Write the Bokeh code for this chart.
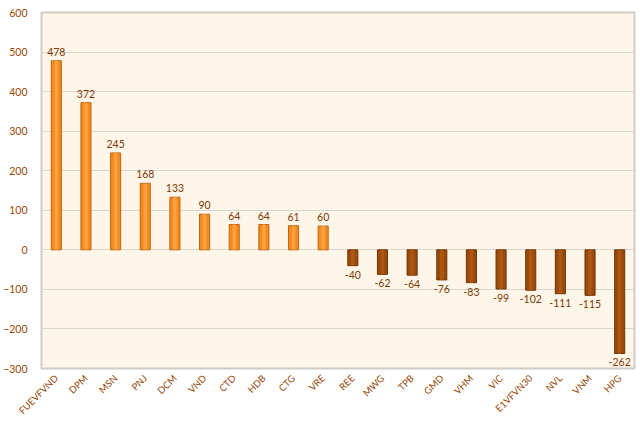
import math
from bokeh.plotting import figure
from bokeh.models import ColumnDataSource, FactorRange
from bokeh.core.properties import value
from bokeh.embed import file_html
from bokeh.resources import INLINE

categories = ["FUEVFVND", "DPM", "MSN", "PNJ", "DCM", "VND", "CTD", "HDB", "CTG", "VRE",
              "REE", "MWG", "TPB", "GMD", "VHM", "VIC", "E1VFVN30", "NVL", "VNM", "HPG"]
values = [478, 372, 245, 168, 133, 90, 64, 64, 61, 60,
          -40, -62, -64, -76, -83, -99, -102, -111, -115, -262]
y_ticks = [-300, -200, -100, 0, 100, 200, 300, 400, 500, 600]

FONT = "Lato"
TXT = "#984807"

pos = [v >= 0 for v in values]
src = ColumnDataSource(dict(
    x=categories,
    top=values,
    fill=["#F58A1F" if p else "#9A4A0B" for p in pos],
    hi=["#FFA64A" if p else "#B15A16" for p in pos],
    edge=["#C0650F" if p else "#6E3405" for p in pos],
))
ps = ColumnDataSource(dict(x=[c for c, p in zip(categories, pos) if p],
                           y=[v for v in values if v >= 0],
                           label=[str(v) for v in values if v >= 0]))
ns = ColumnDataSource(dict(x=[c for c, p in zip(categories, pos) if not p],
                           y=[v for v in values if v < 0],
                           label=[str(v) for v in values if v < 0]))

p = figure(x_range=FactorRange(*categories, range_padding=0), y_range=(-300, 600),
           frame_width=593, frame_height=356, output_backend="svg", toolbar_location=None,
           min_border_left=29, min_border_right=2, min_border_top=12, min_border_bottom=4)
p.background_fill_color = "#FEF6E8"
p.border_fill_color = "white"
p.outline_line_color = "#CFCBC6"
p.outline_line_width = 2

p.vbar(x="x", top="top", bottom=0, width=0.34, fill_color="fill", line_color="edge",
       line_width=1, source=src)
p.vbar(x="x", top="top", bottom=0, width=0.12, fill_color="hi", line_color=None,
       fill_alpha=0.8, source=src)

p.text(x="x", y="y", text="label", source=ps, text_align="center", text_baseline="bottom",
       y_offset=-5, text_font=value(FONT), text_font_size="10.5px", text_color="#7F3A05")
p.text(x="x", y="y", text="label", source=ns, text_align="center", text_baseline="top",
       y_offset=5, text_font=value(FONT), text_font_size="10.5px", text_color="#7F3A05")

p.xgrid.grid_line_color = None
p.ygrid.grid_line_color = "#D9D6D2"
p.ygrid.ticker = y_ticks
p.yaxis.ticker = y_ticks

for ax in (p.xaxis[0], p.yaxis[0]):
    ax.axis_line_color = None
    ax.major_tick_line_color = None
    ax.minor_tick_line_color = None
    ax.major_label_text_font = FONT
    ax.major_label_text_color = TXT
p.yaxis.major_label_text_font_size = "10.5px"
p.xaxis.major_label_text_font_size = "9.5px"
p.xaxis.major_label_orientation = math.pi / 4
p.xaxis.major_label_standoff = 2
p.yaxis.major_label_standoff = 8

open("out.html", "w").write(file_html(p, INLINE))
